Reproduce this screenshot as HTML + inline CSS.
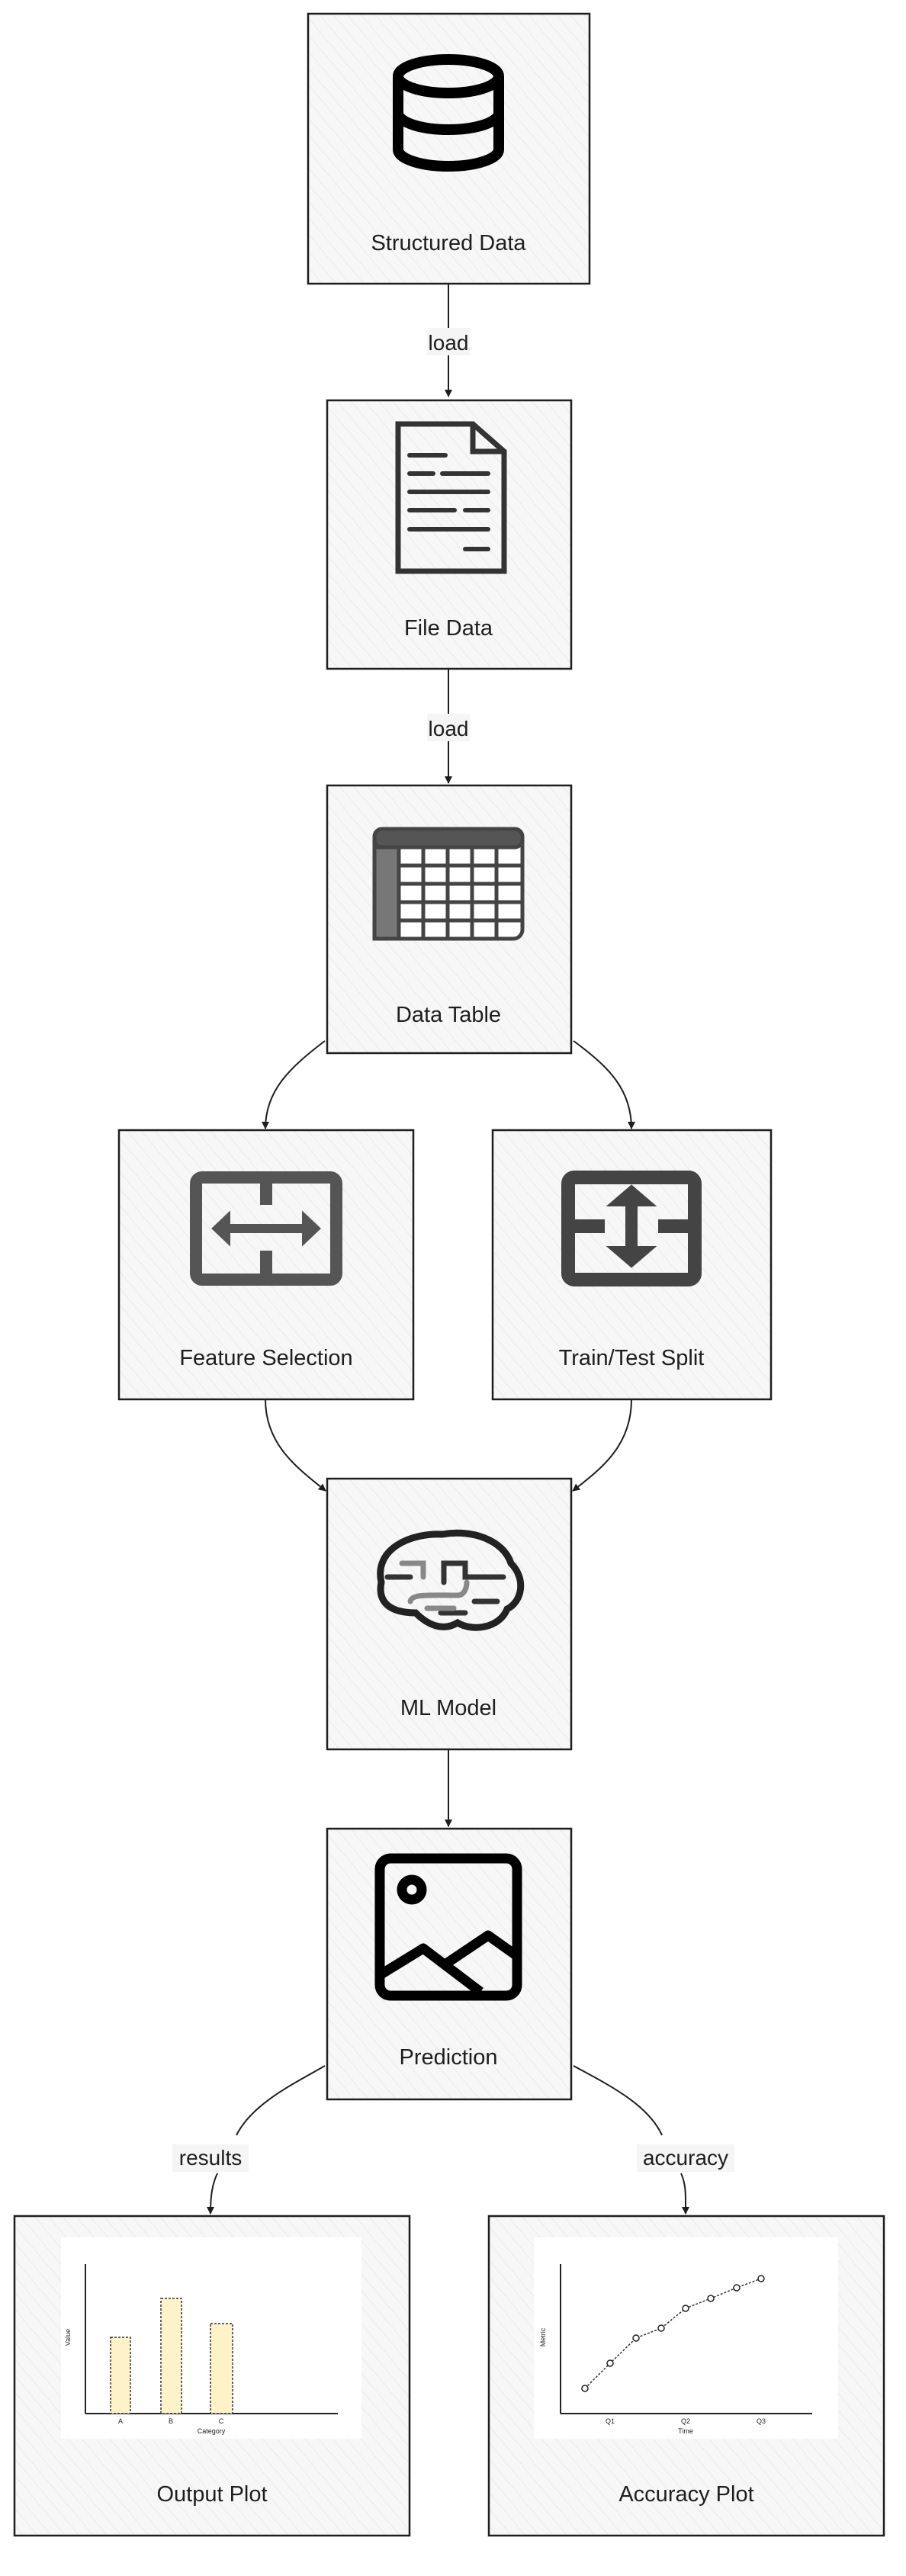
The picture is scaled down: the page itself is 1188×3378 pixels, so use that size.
<!DOCTYPE html>
<html><head><meta charset="utf-8"><style>
html,body{margin:0;padding:0;background:#fff}
svg{display:block}
text{font-family:"Liberation Sans",sans-serif;fill:#1e1e1e}
</style></head><body>
<svg width="1188" height="3378" viewBox="0 0 1188 3378" xmlns="http://www.w3.org/2000/svg">
<defs>
<pattern id="h" width="14" height="14" patternUnits="userSpaceOnUse" patternTransform="rotate(-40)">
<rect width="14" height="14" fill="#f7f7f7"/><line x1="0" y1="0" x2="0" y2="14" stroke="#e6e6e6" stroke-width="1.5"/>
</pattern>
<marker id="a" markerWidth="10" markerHeight="10" refX="9" refY="5" orient="auto" markerUnits="userSpaceOnUse" viewBox="0 0 10 10">
<path d="M0,0 L10,5 L0,10 z" fill="#1e1e1e"/></marker>
</defs>
<g stroke="#1e1e1e" stroke-width="2.5" fill="url(#h)">
<rect x="404" y="18" width="369" height="354"/>
<rect x="429" y="525" width="320" height="352"/>
<rect x="429" y="1030" width="320" height="351"/>
<rect x="156" y="1482" width="386" height="353"/>
<rect x="646" y="1482" width="365" height="353"/>
<rect x="429" y="1939" width="320" height="355"/>
<rect x="429" y="2398" width="320" height="355"/>
<rect x="19" y="2906" width="518" height="419"/>
<rect x="641" y="2906" width="518" height="419"/>
</g>
<!-- connectors -->
<g stroke="#1e1e1e" stroke-width="2" fill="none">
<line x1="588" y1="372" x2="588" y2="520" marker-end="url(#a)"/>
<line x1="588" y1="877" x2="588" y2="1027" marker-end="url(#a)"/>
<path d="M426,1365 C380,1400 348,1430 348,1480" marker-end="url(#a)"/>
<path d="M752,1365 C800,1400 828,1430 828,1480" marker-end="url(#a)"/>
<path d="M348,1835 C348,1895 390,1925 427,1955" marker-end="url(#a)"/>
<path d="M828,1835 C828,1895 790,1925 751,1955" marker-end="url(#a)"/>
<line x1="588" y1="2294" x2="588" y2="2395" marker-end="url(#a)"/>
<path d="M426,2709 C380,2735 330,2760 310,2800"/>
<path d="M285,2850 C278,2865 276,2880 276,2903" marker-end="url(#a)"/>
<path d="M752,2709 C800,2735 850,2760 868,2800"/>
<path d="M893,2850 C900,2865 899,2880 899,2903" marker-end="url(#a)"/>
</g>
<g font-size="28" text-anchor="middle">
<rect x="560" y="430" width="56" height="36" fill="#f5f5f5"/><text x="588" y="459">load</text>
<rect x="560" y="936" width="56" height="36" fill="#f5f5f5"/><text x="588" y="965">load</text>
<rect x="226" y="2812" width="100" height="36" fill="#f5f5f5"/><text x="276" y="2839">results</text>
<rect x="835" y="2812" width="128" height="36" fill="#f5f5f5"/><text x="899" y="2839">accuracy</text>
</g>
<g font-size="29" text-anchor="middle">
<text x="588" y="328">Structured Data</text>
<text x="588" y="833">File Data</text>
<text x="588" y="1340">Data Table</text>
<text x="349" y="1790">Feature Selection</text>
<text x="828" y="1790">Train/Test Split</text>
<text x="588" y="2249">ML Model</text>
<text x="588" y="2707">Prediction</text>
<text x="278" y="3280">Output Plot</text>
<text x="900" y="3280">Accuracy Plot</text>
</g>
<!-- database icon -->
<g stroke="#000" stroke-width="14" fill="none">
<ellipse cx="588" cy="100" rx="66" ry="22"/>
<path d="M522,100 V196 A66,22 0 0 0 654,196 V100"/>
<path d="M522,148 A66,22 0 0 0 654,148"/>
</g>
<!-- doc icon -->
<g stroke="#333" fill="none" stroke-linecap="round">
<path d="M522,556 H620 L661,592 V749 H522 Z" stroke-width="7"/>
<path d="M620,556 V592 H661" stroke-width="7"/>
<g stroke-width="6"><line x1="537" y1="597" x2="584" y2="597"/><line x1="537" y1="621" x2="568" y2="621"/><line x1="580" y1="621" x2="640" y2="621"/>
<line x1="537" y1="645" x2="640" y2="645"/><line x1="537" y1="669" x2="596" y2="669"/><line x1="610" y1="669" x2="640" y2="669"/>
<line x1="537" y1="694" x2="640" y2="694"/><line x1="610" y1="720" x2="640" y2="720"/></g>
</g>
<!-- table icon -->
<g stroke="#444" stroke-width="5" fill="#fff">
<rect x="491" y="1087" width="194" height="144" rx="12"/>
<rect x="491" y="1087" width="194" height="24" rx="10" fill="#555"/>
<g fill="none"><line x1="523" y1="1111" x2="523" y2="1231"/><line x1="555" y1="1111" x2="555" y2="1231"/><line x1="587" y1="1111" x2="587" y2="1231"/><line x1="619" y1="1111" x2="619" y2="1231"/><line x1="651" y1="1111" x2="651" y2="1231"/>
<line x1="491" y1="1135" x2="685" y2="1135"/><line x1="491" y1="1159" x2="685" y2="1159"/><line x1="491" y1="1183" x2="685" y2="1183"/><line x1="491" y1="1207" x2="685" y2="1207"/></g>
<rect x="491" y="1111" width="32" height="120" fill="#777"/>
</g>
<!-- feature icon -->
<g stroke="#555" fill="none">
<rect x="257" y="1544" width="184" height="134" rx="8" stroke-width="16"/>
<line x1="349" y1="1544" x2="349" y2="1580" stroke-width="16"/><line x1="349" y1="1640" x2="349" y2="1678" stroke-width="16"/>
<path d="M290,1611 H408" stroke-width="12"/>
<path d="M300,1592 L280,1611 L300,1630 Z M398,1592 L418,1611 L398,1630 Z" fill="#555" stroke-width="4"/>
</g>
<!-- train icon -->
<g stroke="#444" fill="none">
<rect x="745" y="1544" width="166" height="134" rx="8" stroke-width="18"/>
<line x1="745" y1="1608" x2="793" y2="1608" stroke-width="18"/><line x1="863" y1="1608" x2="911" y2="1608" stroke-width="18"/>
<line x1="828" y1="1570" x2="828" y2="1650" stroke-width="16"/>
<path d="M800,1580 L828,1556 L856,1580 Z M800,1636 L828,1660 L856,1636 Z" fill="#444" stroke-width="4"/>
</g>
<!-- brain icon -->
<g fill="none" stroke-linecap="round">
<path d="M500,2075 C490,2030 540,2010 580,2012 C620,2005 660,2020 670,2050 C690,2070 685,2100 665,2110 C655,2135 620,2140 600,2128 C580,2140 560,2130 545,2115 C510,2115 495,2100 500,2075 Z" stroke="#222" stroke-width="9"/>
<g stroke="#333" stroke-width="7"><path d="M508,2068 H538"/><path d="M582,2075 V2050 H610 V2068 H660"/><path d="M622,2100 H652"/><path d="M578,2115 H610"/></g>
<g stroke="#888" stroke-width="7"><path d="M527,2050 H555 V2068"/><path d="M538,2100 C540,2090 560,2092 600,2092 C610,2092 612,2080 612,2075"/><path d="M560,2109 H595"/></g>
</g>
<!-- image icon -->
<g stroke="#000" stroke-width="13" fill="none" stroke-linejoin="round">
<rect x="498" y="2437" width="180" height="180" rx="14"/>
<circle cx="540" cy="2478" r="13"/>
<path d="M498,2590 L555,2555 L630,2612"/>
<path d="M585,2575 L640,2538 L678,2565"/>
</g>
<!-- output chart -->
<rect x="80" y="2934" width="394" height="264" fill="#fff"/>
<g stroke="#222" stroke-width="2"><line x1="112" y1="2969" x2="112" y2="3165"/><line x1="112" y1="3165" x2="443" y2="3165"/></g>
<g fill="#fdf2c8" stroke="#333" stroke-width="1.5" stroke-dasharray="3,2">
<rect x="145" y="3065" width="26" height="100"/><rect x="211" y="3014" width="27" height="151"/><rect x="276" y="3047" width="29" height="118"/>
</g>
<g font-size="9" text-anchor="middle"><text x="158" y="3178">A</text><text x="224" y="3178">B</text><text x="290" y="3178">C</text><text x="277" y="3191">Category</text>
<text x="92" y="3065" transform="rotate(-90 92 3065)">Value</text></g>
<!-- accuracy chart -->
<rect x="700" y="2934" width="399" height="264" fill="#fff"/>
<g stroke="#222" stroke-width="2"><line x1="735" y1="2969" x2="735" y2="3165"/><line x1="735" y1="3165" x2="1065" y2="3165"/></g>
<polyline points="767,3132 800,3099 834,3066 867,3053 899,3027 932,3014 966,3000 998,2988" fill="none" stroke="#333" stroke-width="1.5" stroke-dasharray="3,2"/>
<g fill="#fff" stroke="#222" stroke-width="1.5"><circle cx="767" cy="3132" r="4"/><circle cx="800" cy="3099" r="4"/><circle cx="834" cy="3066" r="4"/><circle cx="867" cy="3053" r="4"/><circle cx="899" cy="3027" r="4"/><circle cx="932" cy="3014" r="4"/><circle cx="966" cy="3000" r="4"/><circle cx="998" cy="2988" r="4"/></g>
<g font-size="9" text-anchor="middle"><text x="800" y="3178">Q1</text><text x="899" y="3178">Q2</text><text x="998" y="3178">Q3</text><text x="899" y="3191">Time</text>
<text x="715" y="3065" transform="rotate(-90 715 3065)">Metric</text></g>
</svg>
</body></html>
